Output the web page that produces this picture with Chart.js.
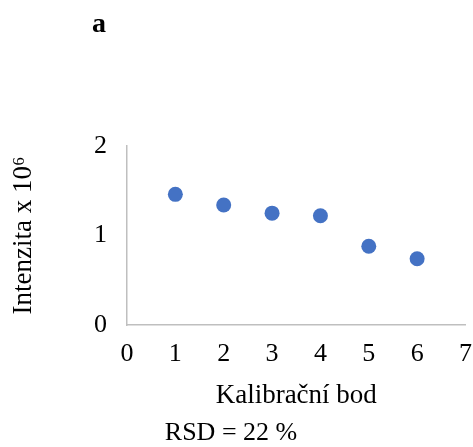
<!DOCTYPE html>
<html>
<head>
<meta charset="utf-8">
<script src="https://cdn.jsdelivr.net/npm/chart.js@4/dist/chart.umd.min.js"></script>
<style>
  html, body { margin: 0; padding: 0; background: #ffffff; }
  #wrap { width: 473px; height: 447px; }
</style>
</head>
<body>
<div id="wrap"><canvas id="chart" width="473" height="447"></canvas></div>
<script>
// data
var bodX = [1, 2, 3, 4, 5, 6];
var intenzita = [1.46, 1.34, 1.25, 1.22, 0.88, 0.74];
var xTicks = [0, 1, 2, 3, 4, 5, 6, 7];
var yTicks = [0, 1, 2];
var panelLabel = "a";
var rsdText = "RSD = 22 %";

var serif = "'Liberation Serif', 'Times New Roman', serif";
var axisGray = "#bfbfbf";

var points = bodX.map(function (x, i) {
    return { x: x, y: intenzita[i] };
});

// extra texts: panel letter and RSD note
var extraText = {
    id: "extraText",
    afterDraw: function (chart) {
        var c = chart.ctx;
        c.save();
        c.fillStyle = "#000";
        c.textAlign = "center";
        c.textBaseline = "alphabetic";
        c.font = "bold 28px " + serif;
        c.fillText(panelLabel, 99, 32);
        c.font = "26px " + serif;
        c.fillText(rsdText, 231, 440);
        c.restore();
    }
};

var ctx = document.getElementById("chart").getContext("2d");
new Chart(ctx, {
    type: "scatter",
    data: {
        datasets: [{
            data: points,
            backgroundColor: "#4472C4",
            borderColor: "#4472C4",
            pointRadius: 7.5,
            pointHoverRadius: 7.5,
            borderWidth: 0
        }]
    },
    options: {
        responsive: false,
        animation: false,
        layout: {
            padding: { top: 146, right: 7, bottom: 35, left: 0 }
        },
        scales: {
            x: {
                type: "linear",
                min: xTicks[0],
                max: xTicks[xTicks.length - 1],
                afterFit: function (scale) {
                    scale.height = 87;
                    scale.paddingLeft = 0;
                    scale.paddingRight = 0;
                },
                grid: { display: false, drawTicks: false },
                border: { display: true, color: axisGray, width: 1.5 },
                ticks: {
                    stepSize: 1,
                    padding: 14,
                    color: "#000",
                    font: { family: serif, size: 26 }
                },
                title: {
                    display: true,
                    text: "Kalibrační bod",
                    color: "#000",
                    padding: { top: 0, bottom: 0 },
                    font: { family: serif, size: 27 }
                }
            },
            y: {
                min: yTicks[0],
                max: yTicks[yTicks.length - 1],
                afterFit: function (scale) {
                    scale.width = 127;
                    scale.paddingTop = 0;
                    scale.paddingBottom = 0;
                },
                grid: { display: false, drawTicks: false },
                border: { display: true, color: axisGray, width: 1.5 },
                ticks: {
                    stepSize: 1,
                    padding: 20,
                    color: "#000",
                    font: { family: serif, size: 26 }
                },
                title: {
                    display: true,
                    text: "Intenzita x 10\u2076",
                    color: "#000",
                    padding: { top: 8, bottom: 0 },
                    font: { family: serif, size: 27 }
                }
            }
        },
        plugins: {
            legend: { display: false },
            tooltip: { enabled: false }
        }
    },
    plugins: [extraText]
});
</script>
</body>
</html>
